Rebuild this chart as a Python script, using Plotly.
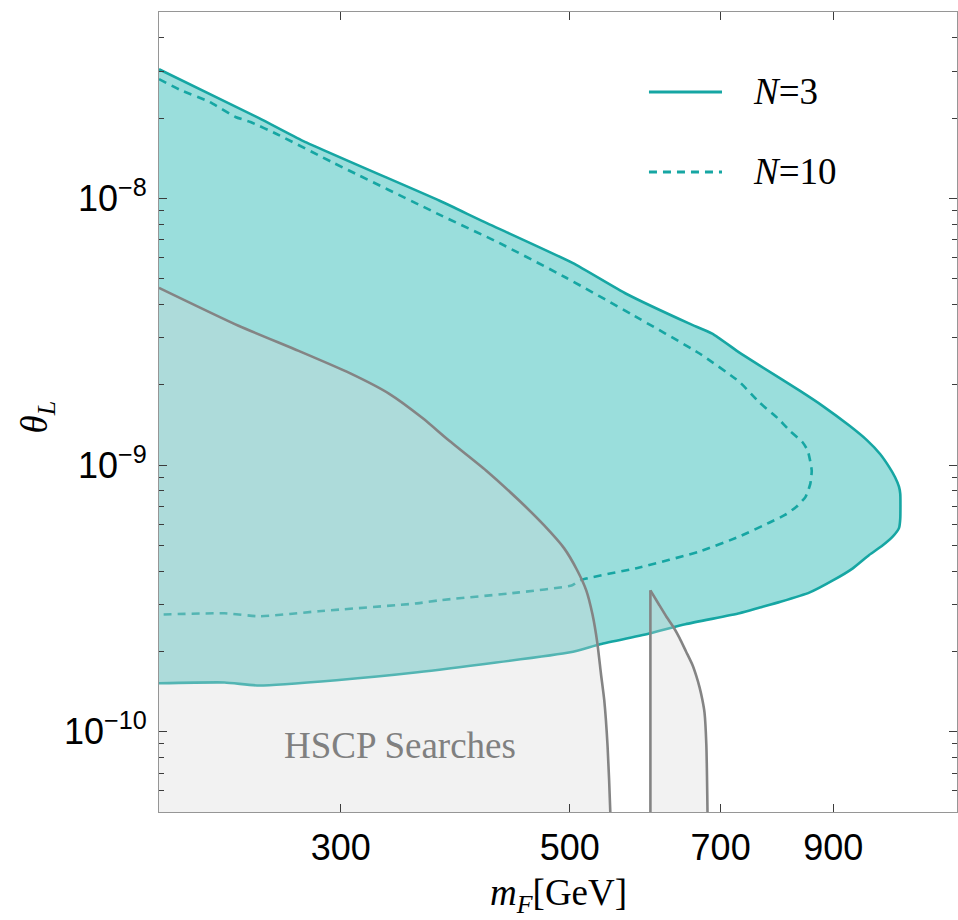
import math
import plotly.graph_objects as go

# ---- N = 3 exclusion contour: upper branch (left -> nose), lower branch (nose -> left)
n3_upper_m = [200, 250, 276, 374, 411, 503, 567, 653, 687, 730, 764, 835, 880, 934, 970, 999, 1020, 1033, 1042, 1045]
n3_upper_t = [3.05e-8, 2.0e-8, 1.64e-8, 9.8e-9, 8.24e-9, 5.73e-9, 4.39e-9, 3.39e-9, 3.11e-9,
              2.64e-9, 2.36e-9, 1.90e-9, 1.66e-9, 1.40e-9, 1.24e-9, 1.10e-9, 9.8e-10, 9.0e-10,
              8.3e-10, 7.8e-10]
n3_lower_m = [1045, 1042, 1028, 1005, 975, 940, 900, 854, 800, 764, 730, 647, 598.5, 535, 500.5, 356, 297, 250, 231.5, 200]
n3_lower_t = [6.3e-10, 5.8e-10, 5.4e-10, 5.0e-10, 4.6e-10, 4.1e-10, 3.7e-10, 3.33e-10, 3.07e-10,
              2.92e-10, 2.78e-10, 2.53e-10, 2.34e-10, 2.13e-10, 1.985e-10, 1.67e-10, 1.56e-10,
              1.49e-10, 1.53e-10, 1.52e-10]

# ---- N = 10 exclusion contour (open curve, dashed)
n10_m = [200, 209.8, 223.9, 237.2, 245.3, 260, 295.3, 376, 427.1, 496, 574.9, 667.8, 730, 763.6,
         795, 816.6, 840, 850.1, 857.7, 855, 846, 829.5, 808, 780.9, 730.3, 667.8, 584, 510.7,
         502.7, 446.6, 373.5, 355.6, 285.6, 250.3, 231.5, 200]
n10_t = [2.80e-8, 2.55e-8, 2.30e-8, 2.02e-8, 1.934e-8, 1.744e-8, 1.358e-8, 8.60e-9, 6.81e-9,
         5.04e-9, 3.66e-9, 2.62e-9, 2.05e-9, 1.714e-9, 1.50e-9, 1.346e-9, 1.22e-9, 1.133e-9,
         9.54e-10, 8.5e-10, 7.6e-10, 6.99e-10, 6.5e-10, 6.09e-10, 5.40e-10, 4.74e-10, 4.13e-10,
         3.69e-10, 3.54e-10, 3.33e-10, 3.11e-10, 3.03e-10, 2.83e-10, 2.71e-10, 2.78e-10, 2.75e-10]

# ---- HSCP search bounds (two disjoint excluded regions)
hscp1_m = [200, 238.8, 273.1, 305.4, 334, 360, 381.9, 414.8, 446.6, 472, 493.8, 508, 518.7, 526,
           531.7, 536, 540, 544, 547.3, 548]
hscp1_t = [4.62e-9, 3.33e-9, 2.68e-9, 2.22e-9, 1.853e-9, 1.50e-9, 1.235e-9, 9.54e-10, 7.36e-10,
           5.95e-10, 4.87e-10, 4.05e-10, 3.39e-10, 2.75e-10, 2.15e-10, 1.65e-10, 1.31e-10,
           8.8e-11, 5.0e-11, 3.0e-11]
hscp2_m = [598.5, 598.5, 610, 620.3, 630, 638.6, 648, 657.4, 663, 667.8, 672, 675.3, 678, 679.8, 680.5]
hscp2_t = [3.0e-11, 3.39e-10, 3.0e-10, 2.70e-10, 2.47e-10, 2.25e-10, 2.0e-10, 1.78e-10, 1.62e-10,
           1.47e-10, 1.32e-10, 1.18e-10, 9.0e-11, 5.0e-11, 3.0e-11]

# ---- axes
x_range = [200, 1186]
y_range = [5e-11, 5e-8]
x_ticks = [300, 500, 700, 900]
x_ticktext = ["300", "500", "700", "900"]
y_ticks = [1e-10, 1e-9, 1e-8]
y_ticktext = ["10<sup>\u221210</sup>", "10<sup>\u22129</sup>", "10<sup>\u22128</sup>"]
y_minor = [k * 10.0 ** e for e in (-11, -10, -9, -8) for k in range(2, 10)]

TEAL = "rgb(22,166,163)"
TEAL_FILL = "rgb(154,222,220)"
GREY = "rgb(132,132,132)"
GREY_FILL = "rgba(214,214,214,0.32)"
SERIF = "Liberation Serif"
SANS = "Liberation Sans"

fig = go.Figure()

# N = 3 region
fig.add_trace(go.Scatter(
    x=n3_upper_m + n3_lower_m, y=n3_upper_t + n3_lower_t,
    mode="lines", fill="toself", fillcolor=TEAL_FILL,
    line=dict(color=TEAL, width=2.6, shape="spline", smoothing=0.5), hoverinfo="skip"))

# N = 10 contour
fig.add_trace(go.Scatter(
    x=n10_m, y=n10_t, mode="lines",
    line=dict(color=TEAL, width=2.6, dash="8px,6px", shape="spline", smoothing=0.5),
    hoverinfo="skip"))

# HSCP excluded regions, shaded on top
fig.add_trace(go.Scatter(
    x=hscp1_m + [200], y=hscp1_t + [3.0e-11], mode="lines", fill="toself",
    fillcolor=GREY_FILL, line=dict(width=0), hoverinfo="skip"))
fig.add_trace(go.Scatter(
    x=hscp2_m, y=hscp2_t, mode="lines", fill="toself",
    fillcolor=GREY_FILL, line=dict(width=0), hoverinfo="skip"))
fig.add_trace(go.Scatter(
    x=hscp1_m, y=hscp1_t, mode="lines",
    line=dict(color=GREY, width=2.6, shape="spline", smoothing=0.6), hoverinfo="skip"))
# vertical edge, then the curved edge of the second region
fig.add_trace(go.Scatter(
    x=hscp2_m[:2], y=hscp2_t[:2], mode="lines",
    line=dict(color=GREY, width=2.6), hoverinfo="skip"))
fig.add_trace(go.Scatter(
    x=hscp2_m[1:], y=hscp2_t[1:], mode="lines",
    line=dict(color=GREY, width=2.6, shape="spline", smoothing=0.6), hoverinfo="skip"))

axis_common = dict(
    showgrid=False, zeroline=False, showline=True, linecolor="rgb(150,150,150)", linewidth=1,
    ticks="inside", tickcolor="rgb(60,60,60)", tickwidth=1, mirror="ticks",
    tickfont=dict(family=SANS, size=36, color="black"),
)

fig.update_xaxes(
    type="log", range=[math.log10(x_range[0]), math.log10(x_range[1])],
    tickmode="array", tickvals=x_ticks, ticktext=x_ticktext, ticklen=8,
    ticklabelstandoff=4, **axis_common)
fig.update_yaxes(
    type="log", range=[math.log10(y_range[0]), math.log10(y_range[1])],
    tickmode="array", tickvals=y_ticks, ticktext=y_ticktext, ticklen=8,
    minor=dict(tickmode="array", tickvals=y_minor, ticks="inside", ticklen=5,
               tickcolor="rgb(60,60,60)", tickwidth=1),
    ticklabelstandoff=4, **axis_common)

# legend drawn as line samples with labels
legend_items = [("<i>N</i>=3", "solid", 0.9), ("<i>N</i>=10", "8px,6px", 0.8)]
for label, dash, ypos in legend_items:
    fig.add_shape(type="line", xref="paper", yref="paper", x0=0.614, x1=0.7055,
                  y0=ypos, y1=ypos, line=dict(color=TEAL, width=3, dash=dash))
    fig.add_annotation(xref="paper", yref="paper", x=0.742, y=ypos, xanchor="left",
                       yanchor="middle", text=label, showarrow=False,
                       font=dict(family=SERIF, size=37, color="black"))

fig.add_annotation(xref="paper", yref="paper", x=0.302, y=0.083, text="HSCP Searches",
                   showarrow=False, xanchor="center", yanchor="middle",
                   font=dict(family=SERIF, size=37, color="rgb(128,128,128)"))

# axis titles
fig.add_annotation(xref="paper", yref="paper", x=0.5, y=-0.104, xanchor="center",
                   yanchor="middle", showarrow=False,
                   text="<i>m</i><sub><i>F</i></sub>[GeV]",
                   font=dict(family=SERIF, size=37, color="black"))
fig.add_annotation(xref="paper", yref="paper", x=-0.152, y=0.494, xanchor="center",
                   yanchor="middle", showarrow=False, textangle=-90,
                   text="<i>\u03b8</i><sub><i>L</i></sub>",
                   font=dict(family=SERIF, size=37, color="black"))

fig.update_layout(
    width=958, height=920, margin=dict(l=159, r=1, t=12, b=108),
    plot_bgcolor="white", paper_bgcolor="white", showlegend=False)

fig.write_html("out.html")
